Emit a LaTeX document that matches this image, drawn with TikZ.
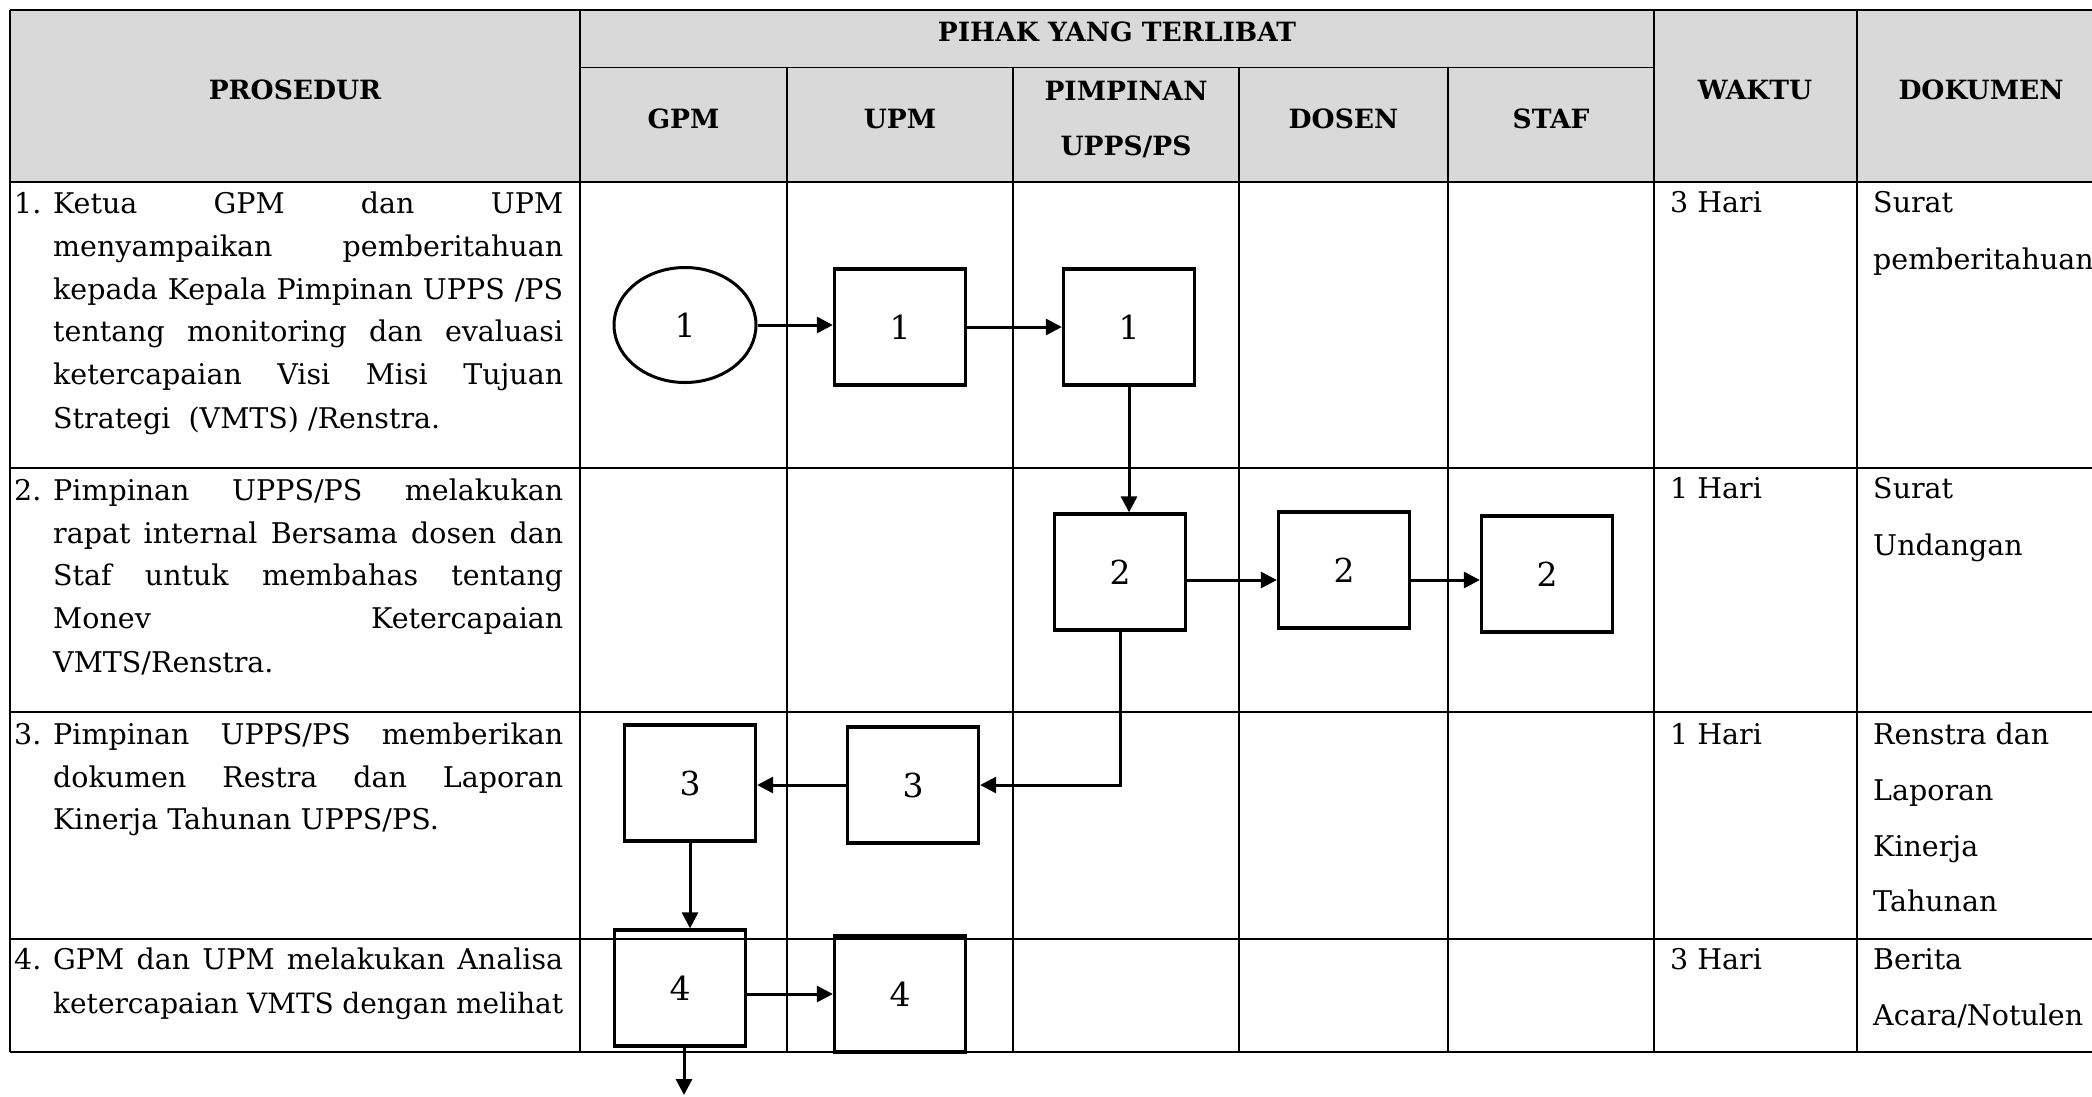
\documentclass[tikz,border=0pt]{standalone}
\usepackage{fontspec}
\setmainfont{DejaVu Serif}
\usetikzlibrary{arrows.meta,shapes.geometric}
\newcommand\jl[1]{\makebox[510pt][s]{#1}}
\newcommand\bodyf{\fontsize{28.5pt}{43pt}\selectfont}
\newcommand\hdrf{\fontsize{26.5pt}{40pt}\selectfont\bfseries}
\newcommand\numf{\fontsize{33pt}{38pt}\selectfont}
\definecolor{hdrgray}{HTML}{D9D9D9}
\tikzset{
  txt/.style={anchor=base west, inner sep=0pt, font=\bodyf},
  hdr/.style={anchor=base, inner sep=0pt, font=\hdrf},
  procbox/.style={draw, line width=3.3pt, minimum width=131pt, minimum height=116pt, inner sep=0pt, font=\numf},
  startnode/.style={draw, ellipse, line width=3pt, minimum width=142pt, minimum height=115pt, inner sep=0pt, font=\numf},
  arr/.style={line width=3pt, -{Triangle[length=16pt,width=16pt]}},
  rowline/.style={line width=2.6pt},
  colline/.style={line width=1.7pt},
}
\begin{document}
\begin{tikzpicture}[x=1pt,y=-1pt]
\useasboundingbox (0,0) rectangle (2092,1096);
\clip (0,0) rectangle (2092,1096);
% header background
\fill[hdrgray] (10,10) rectangle (2105,182);
% horizontal lines
\draw[rowline] (10,10) -- (2105,10);
\draw[colline] (580,67.5) -- (1654,67.5);
\foreach \yy in {182,468,712,939,1052} \draw[rowline] (10,\yy) -- (2105,\yy);
% vertical lines
\foreach \xx in {10,580,1654,1857} \draw[colline] (\xx,10) -- (\xx,1052);
\foreach \xx in {787,1013,1239,1448} \draw[colline] (\xx,67.5) -- (\xx,1052);
% header texts
\node[hdr] (hpihak) at (1117,41) {PIHAK YANG TERLIBAT};
\node[hdr] (hpros) at (295,99) {PROSEDUR};
\node[hdr] (hgpm) at (683.5,128) {GPM};
\node[hdr] (hupm) at (900,128) {UPM};
\node[hdr] (hpim1) at (1126,100) {PIMPINAN};
\node[hdr] (hpim2) at (1126,155) {UPPS/PS};
\node[hdr] (hdos) at (1343.5,128) {DOSEN};
\node[hdr] (hstaf) at (1551,128) {STAF};
\node[hdr] (hwak) at (1755,99) {WAKTU};
\node[hdr] (hdok) at (1981,99) {DOKUMEN};
% row 1 procedure
\node[txt] (n1) at (14,213) {1.};
\node[txt] (r1a) at (53,213) {\jl{Ketua GPM dan UPM}};
\node[txt] (r1b) at (53,256) {\jl{menyampaikan pemberitahuan}};
\node[txt] (r1c) at (53,299) {\jl{kepada Kepala Pimpinan UPPS /PS}};
\node[txt] (r1d) at (53,341) {\jl{tentang monitoring dan evaluasi}};
\node[txt] (r1e) at (53,384) {\jl{ketercapaian Visi Misi Tujuan}};
\node[txt] (r1f) at (53,428) {Strategi\ \ (VMTS) /Renstra.};
% row 2
\node[txt] (n2) at (14,500) {2.};
\node[txt] (r2a) at (53,500) {\jl{Pimpinan UPPS/PS melakukan}};
\node[txt] (r2b) at (53,543) {\jl{rapat internal Bersama dosen dan}};
\node[txt] (r2c) at (53,585) {\jl{Staf untuk membahas tentang}};
\node[txt] (r2d) at (53,628) {\jl{Monev Ketercapaian}};
\node[txt] (r2e) at (53,672) {VMTS/Renstra.};
% row 3
\node[txt] (n3) at (14,744) {3.};
\node[txt] (r3a) at (53,744) {\jl{Pimpinan UPPS/PS memberikan}};
\node[txt] (r3b) at (53,787) {\jl{dokumen Restra dan Laporan}};
\node[txt] (r3c) at (53,829) {Kinerja Tahunan UPPS/PS.};
% row 4
\node[txt] (n4) at (14,969) {4.};
\node[txt] (r4a) at (53,969) {\jl{GPM dan UPM melakukan Analisa}};
\node[txt, font=\fontsize{28pt}{43pt}\selectfont] (r4b) at (53,1013) {\jl{ketercapaian VMTS dengan melihat}};
% waktu
\node[txt] (w1) at (1670,212) {3 Hari};
\node[txt] (w2) at (1670,498) {1 Hari};
\node[txt] (w3) at (1670,744) {1 Hari};
\node[txt] (w4) at (1670,969) {3 Hari};
% dokumen
\node[txt] (d1a) at (1873,212) {Surat};
\node[txt] (d1b) at (1873,269) {pemberitahuan};
\node[txt] (d2a) at (1873,498) {Surat};
\node[txt] (d2b) at (1873,555) {Undangan};
\node[txt] (d3a) at (1873,744) {Renstra dan};
\node[txt] (d3b) at (1873,800) {Laporan};
\node[txt] (d3c) at (1873,856) {Kinerja};
\node[txt] (d3d) at (1873,911) {Tahunan};
\node[txt] (d4a) at (1873,969) {Berita};
\node[txt] (d4b) at (1873,1025) {Acara/Notulen};
% flow shapes
\node[startnode] (e1) at (685,325) {1};
\node[procbox] (u1) at (900,327) {1};
\node[procbox] (p1) at (1129,327) {1};
\node[procbox] (p2) at (1120,572) {2};
\node[procbox] (dz2) at (1344,570) {2};
\node[procbox] (s2) at (1547,574) {2};
\node[procbox] (u3) at (913,785) {3};
\node[procbox] (g3) at (690,783) {3};
\node[procbox] (g4) at (680,988) {4};
\node[procbox] (u4) at (900,994) {4};
\coordinate (a2) at (0,580);
\coordinate (endc) at (684,1095);
% connectors
\draw[arr] (e1.east) -- (e1.east -| u1.west);
\draw[arr] (u1.east) -- (p1.west);
\draw[arr] (p1.south) -- (p1.south |- p2.north);
\draw[arr] (p2.east |- a2) -- (dz2.west |- a2);
\draw[arr] (dz2.east |- a2) -- (s2.west |- a2);
\draw[arr] (p2.south) |- (u3.east);
\draw[arr] (u3.west) -- (g3.east |- u3.west);
\draw[arr] (g3.south) -- (g3.south |- g4.north);
\draw[arr] (g4.east |- u4.west) -- (u4.west);
\draw[arr] (g4.south -| endc) -- (endc);
\end{tikzpicture}
\end{document}
